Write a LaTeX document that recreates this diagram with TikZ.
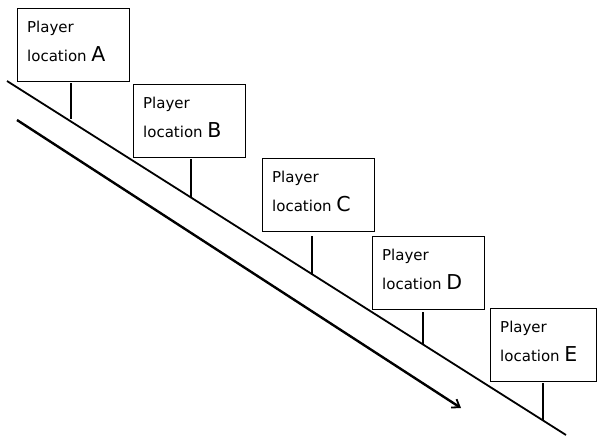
\documentclass[tikz,border=0pt]{standalone}
\usepackage{fontspec}
\setmainfont{DejaVu Sans}
\usetikzlibrary{arrows.meta}
\newcommand{\locletter}[1]{{\fontsize{20.5}{29}\selectfont #1}}
\begin{document}
\begin{tikzpicture}[x=1pt,y=-1pt,
  locbox/.style={draw, line width=0.9pt, anchor=north west, minimum width=112pt, minimum height=73pt,
    inner sep=0pt},
  boxtext/.style={anchor=north west, align=left, inner sep=0pt, font=\fontsize{15}{29}\selectfont},
  stem/.style={line width=2pt},
  slope/.style={line width=1.8pt},
  travel/.style={line width=2.4pt, -{Straight Barb[length=7pt,width=10pt,line width=1.8pt]}}]
\useasboundingbox (0,0) rectangle (597,436);
\node[locbox] (A) at (17,8)   {};
\node[locbox] (B) at (133,84) {};
\node[locbox] (C) at (262,158){};
\node[locbox] (D) at (372,236){};
\node[locbox, minimum width=106pt] (E) at (490,308){};
\node[boxtext] (tA) at ([xshift=10pt,yshift=-13pt]A.north west) {Player\\location \locletter{A}};
\node[boxtext] (tB) at ([xshift=10pt,yshift=-13pt]B.north west) {Player\\location \locletter{B}};
\node[boxtext] (tC) at ([xshift=10pt,yshift=-13pt]C.north west) {Player\\location \locletter{C}};
\node[boxtext] (tD) at ([xshift=10pt,yshift=-13pt]D.north west) {Player\\location \locletter{D}};
\node[boxtext] (tE) at ([xshift=10pt,yshift=-13pt]E.north west) {Player\\location \locletter{E}};
\coordinate (s0) at (7,81);
\coordinate (s1) at (566,435);
\draw[slope] (s0) -- (s1);
\coordinate (t0) at (17,120);
\coordinate (t1) at (461,408);
\draw[travel] (t0) -- (t1);
\coordinate (a1) at (71,83);  \coordinate (a2) at (71,119);
\coordinate (b1) at (191,159); \coordinate (b2) at (191,197);
\coordinate (c1) at (312,236); \coordinate (c2) at (312,275);
\coordinate (d1) at (423,312); \coordinate (d2) at (423,344);
\coordinate (e1) at (543,383); \coordinate (e2) at (543,420);
\draw[stem] (a1) -- (a2);
\draw[stem] (b1) -- (b2);
\draw[stem] (c1) -- (c2);
\draw[stem] (d1) -- (d2);
\draw[stem] (e1) -- (e2);
\end{tikzpicture}
\end{document}
